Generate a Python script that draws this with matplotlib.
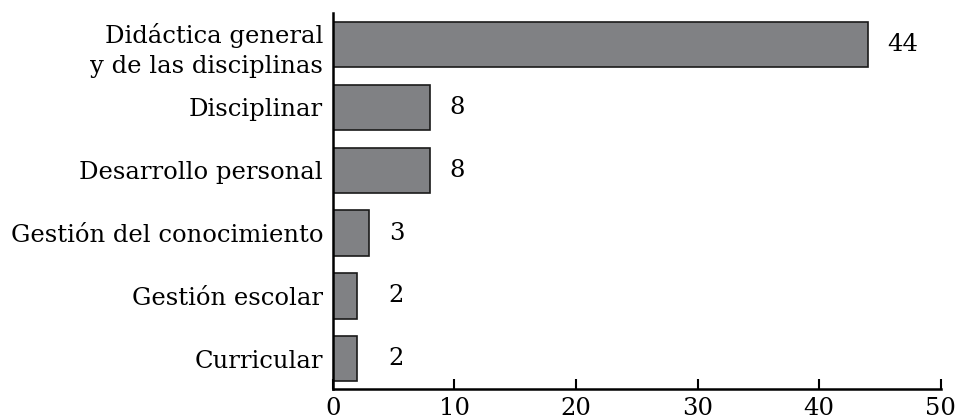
import numpy as np
import matplotlib
matplotlib.use("Agg")
import matplotlib.pyplot as plt

plt.rcParams.update({"font.family": "DejaVu Serif", "font.size": 17.5})

categories = ["Didáctica general\ny de las disciplinas", "Disciplinar", "Desarrollo personal",
              "Gestión del conocimiento", "Gestión escolar", "Curricular"]
values = [44, 8, 8, 3, 2, 2]
xticks = [0, 10, 20, 30, 40, 50]

fig = plt.figure(figsize=(9.59, 4.2), dpi=100)
ax = fig.add_axes([0.347, 0.074, 0.634, 0.895])

y = np.arange(len(values))
ax.barh(y, values, height=0.72, color="#808184", edgecolor="#1a1a1a", lw=1.2)
for yi, v in zip(y, values):
    ax.text(max(v, 3) + 1.6, yi, str(v), va="center", ha="left")

ax.set_yticks(y)
ax.set_yticklabels(categories, linespacing=1.4)
ax.tick_params(axis="y", length=0, pad=7)
ax.set_xticks(xticks)
ax.tick_params(axis="x", direction="in", length=7, width=1.5, pad=6)
ax.set_xlim(0, 50)
ax.set_ylim(5.48, -0.5)
for s in ["top", "right"]:
    ax.spines[s].set_visible(False)
for s in ["left", "bottom"]:
    ax.spines[s].set_linewidth(1.8)

fig.savefig("out.png", dpi=100)
